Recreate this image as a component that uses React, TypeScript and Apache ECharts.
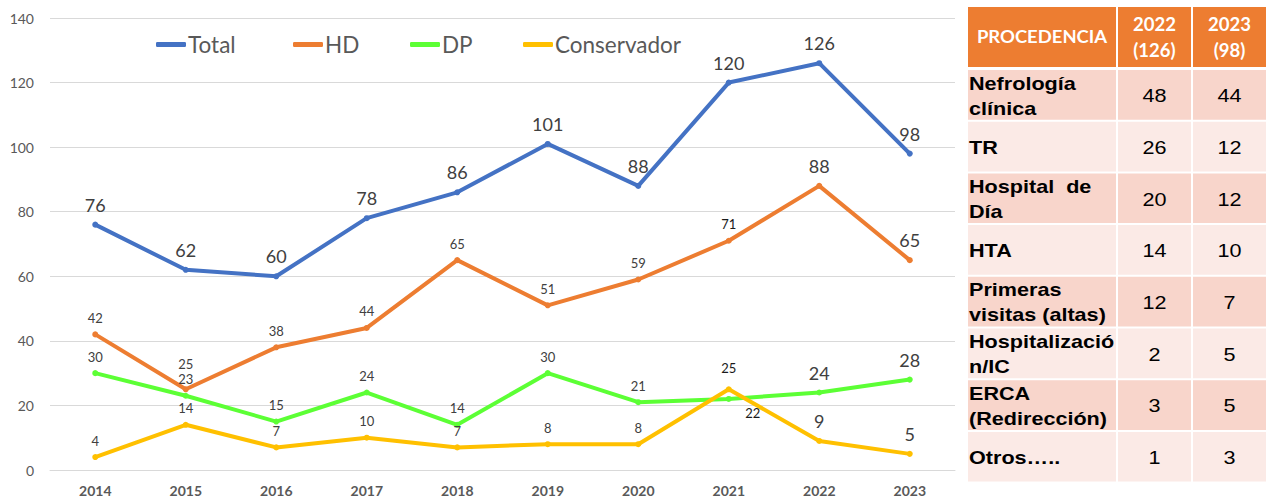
import React, { useEffect, useRef } from "react";
import * as echarts from "echarts";

const years = ["2014", "2015", "2016", "2017", "2018", "2019", "2020", "2021", "2022", "2023"];
const total = [76, 62, 60, 78, 86, 101, 88, 120, 126, 98];
const hd = [42, 25, 38, 44, 65, 51, 59, 71, 88, 65];
const dp = [30, 23, 15, 24, 14, 30, 21, 22, 24, 28];
const conservador = [4, 14, 7, 10, 7, 8, 8, 25, 9, 5];

const tableHeader = ["PROCEDENCIA", "2022\n(126)", "2023\n(98)"];
const procedencia = [
  "Nefrología\nclínica",
  "TR",
  "Hospital  de\nDía",
  "HTA",
  "Primeras\nvisitas (altas)",
  "Hospitalizació\nn/IC",
  "ERCA\n(Redirección)",
  "Otros…..",
];
const val2022 = [48, 26, 20, 14, 12, 2, 3, 1];
const val2023 = [44, 12, 12, 10, 7, 5, 5, 3];

const COLORS = { total: "#4472C4", hd: "#ED7D31", dp: "#5CFF35", cons: "#FFC000" };
const LABEL = "#404040";

function buildTable(): any[] {
  const els: any[] = [];
  const left = 968;
  const colW = [148, 73, 73];
  const gap = 2;
  const colX = [left, left + colW[0] + gap, left + colW[0] + colW[1] + 2 * gap];
  const headTop = 7;
  const headH = 60;
  const rowTop0 = 70;
  const pitch = 51.7;
  const rowH = 49.7;
  tableHeader.forEach((h, c) => {
    els.push({
      type: "rect",
      shape: { x: colX[c], y: headTop, width: colW[c], height: headH },
      style: { fill: "#ED7D31" },
    });
    els.push({
      type: "text",
      x: colX[c] + colW[c] / 2,
      y: headTop + headH / 2,
      scaleX: c === 0 ? 1.12 : 1.03,
      style: {
        text: h,
        fill: "#ffffff",
        font: c === 0 ? "bold 16.5px Lato" : "bold 18px Lato",
        lineHeight: 26,
        align: "center",
        verticalAlign: "middle",
      },
    });
  });
  procedencia.forEach((p, r) => {
    const y = rowTop0 + r * pitch;
    const fill = r % 2 === 0 ? "#F8D5CB" : "#FBEAE6";
    const cells = [p, String(val2022[r]), String(val2023[r])];
    cells.forEach((t, c) => {
      els.push({
        type: "rect",
        shape: { x: colX[c], y, width: colW[c], height: rowH },
        style: { fill },
      });
      els.push({
        type: "text",
        x: c === 0 ? colX[c] + 1 : colX[c] + colW[c] / 2,
        y: y + rowH / 2 + 1,
        scaleX: 1.2,
        style: {
          text: t,
          fill: "#000000",
          font: c === 0 ? "bold 18px 'Liberation Sans'" : "18px 'Liberation Sans'",
          lineHeight: 25,
          align: c === 0 ? "left" : "center",
          verticalAlign: "middle",
        },
      });
    });
  });
  return els;
}

function items(values: number[], kind: string) {
  return values.map((v, i) => {
    const big = kind === "total" || i >= 8;
    const label: any = {
      fontSize: big ? 18 : 13,
      distance: big ? 8 : 7,
    };
    if (kind === "hd" && i === 1) label.distance = 16;
    if (kind === "hd" && i === 7) label.color = "#1a1a1a";
    if (kind === "dp" && i === 7) {
      label.position = "inside";
      label.offset = [24, 14];
      label.color = "#1a1a1a";
    }
    if (kind === "cons" && i === 7) {
      label.distance = 12;
      label.color = "#1a1a1a";
    }
    return { value: v, label };
  });
}

function lineSeries(name: string, values: number[], color: string, kind: string) {
  return {
    name,
    type: "line",
    data: items(values, kind),
    symbol: "circle",
    symbolSize: 6,
    lineStyle: { color, width: 4 },
    itemStyle: { color },
    label: {
      show: true,
      position: "top",
      color: LABEL,
      fontFamily: "Lato",
    },
  };
}

function legendAt(name: string, left: number) {
  return {
    data: [{ name, icon: "roundRect" }],
    left,
    top: 33,
    padding: 0,
    itemWidth: 30,
    itemHeight: 5,
    itemGap: 4,
    textStyle: { fontSize: 22.5, color: "#595959", fontFamily: "Lato", padding: [0, 0, 0, -3] },
  };
}

export default function App() {
  const ref = useRef<HTMLDivElement>(null);
  useEffect(() => {
    if (!ref.current) return;
    const chart = echarts.init(ref.current, null, { renderer: "svg" });
    chart.setOption({
      animation: false,
      backgroundColor: "#ffffff",
      textStyle: { fontFamily: "Lato" },
      legend: [
        legendAt("Total", 156),
        legendAt("HD", 293),
        legendAt("DP", 410),
        legendAt("Conservador", 523),
      ],
      grid: { left: 50, right: 313, top: 18, bottom: 27 },
      xAxis: {
        type: "category",
        data: years,
        boundaryGap: true,
        axisLine: { lineStyle: { color: "#D9D9D9" } },
        axisTick: { show: false },
        axisLabel: { color: "#595959", fontSize: 14, fontWeight: "bold", margin: 13, fontFamily: "Lato" },
      },
      yAxis: {
        type: "value",
        min: 0,
        max: 140,
        interval: 20,
        axisLine: { show: false },
        axisTick: { show: false },
        splitLine: { lineStyle: { color: "#D9D9D9", width: 1 } },
        axisLabel: { color: "#595959", fontSize: 14, margin: 16, fontFamily: "Lato" },
      },
      series: [
        lineSeries("Total", total, COLORS.total, "total"),
        lineSeries("HD", hd, COLORS.hd, "hd"),
        lineSeries("DP", dp, COLORS.dp, "dp"),
        lineSeries("Conservador", conservador, COLORS.cons, "cons"),
      ],
      graphic: buildTable(),
    });
    return () => chart.dispose();
  }, []);
  return (
    <div
      ref={ref}
      style={{ position: "fixed", left: 0, top: 0, width: 1268, height: 497, background: "#fff" }}
    />
  );
}
